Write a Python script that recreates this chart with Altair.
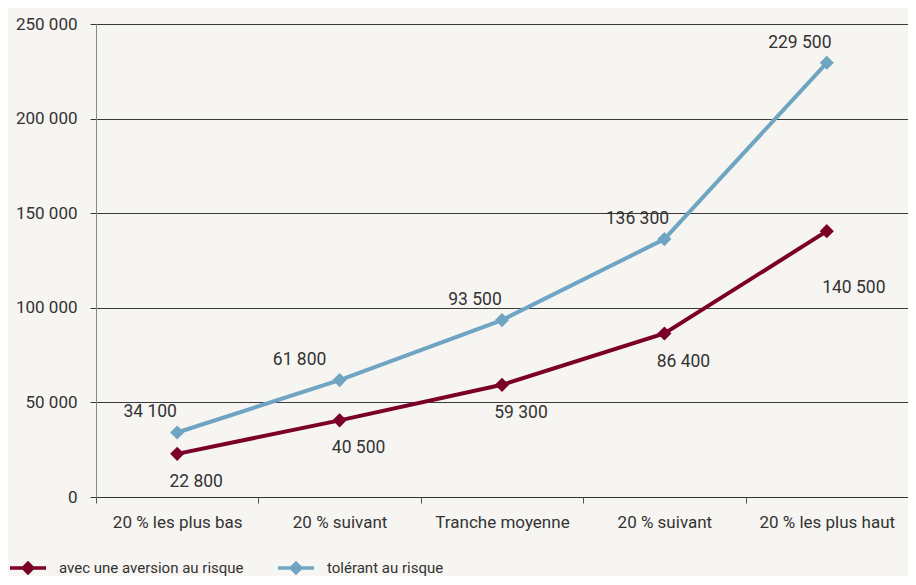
import json
import altair as alt
import pandas as pd

categories = ["20 % les plus bas", "20 % suivant", "Tranche moyenne", "20 % suivant", "20 % les plus haut"]
series_names = ["avec une aversion au risque", "tolérant au risque"]
averse = [22800, 40500, 59300, 86400, 140500]
tolerant = [34100, 61800, 93500, 136300, 229500]
y_ticks = [0, 50000, 100000, 150000, 200000, 250000]
colors = ["#7b0029", "#6fa4c3"]

rows = []
for i in range(len(categories)):
    rows.append({"idx": i, "serie": series_names[0], "value": averse[i]})
    rows.append({"idx": i, "serie": series_names[1], "value": tolerant[i]})
df = pd.DataFrame(rows)
df["label"] = df["value"].map(lambda v: f"{v:,}".replace(",", " "))

FONT = "Roboto"
label_expr = json.dumps(categories) + "[datum.value]"

x = alt.X(
    "idx:O",
    scale=alt.Scale(type="band", paddingInner=0, paddingOuter=0),
    axis=alt.Axis(
        title=None, labelExpr=label_expr, labelAngle=0, tickBand="extent",
        grid=False, domainColor="#333333", tickColor="#555555", tickSize=6,
        labelPadding=11, labelFontSize=17, labelColor="#333333", labelFont=FONT,
    ),
)
y = alt.Y(
    "value:Q",
    scale=alt.Scale(domain=[0, 250000], nice=False),
    axis=alt.Axis(
        title=None, values=y_ticks, format=",d", gridColor="#3a3a3a", gridWidth=1,
        domainColor="#8a8a8a", tickColor="#3a3a3a", tickSize=6, labelPadding=13,
        labelFontSize=17, labelColor="#333333", labelFont=FONT,
    ),
)

legend_path = "M-1,-0.1L1,-0.1L1,0.1L-1,0.1Z M-0.4,0L0,-0.4L0.4,0L0,0.4Z"
color = alt.Color(
    "serie:N",
    scale=alt.Scale(domain=series_names, range=colors),
    legend=alt.Legend(
        title=None, orient="none", direction="horizontal", legendX=-86, legendY=526,
        symbolType=legend_path, symbolSize=1296, symbolStrokeWidth=0,
        labelFontSize=15, labelFont=FONT, labelColor="#333333", labelLimit=300,
        columnPadding=34, labelOffset=13,
    ),
)

base = alt.Chart(df)
lines = base.mark_line(strokeWidth=4).encode(x=x, y=y, color=color)
points = base.mark_point(shape="diamond", filled=True, size=200, opacity=1).encode(x=x, y=y, color=color)

txt = dict(fontSize=17.5, font=FONT, color="#333333")
blue_lab = base.transform_filter(
    (alt.datum.serie == series_names[1]) & (alt.datum.idx != 1)
).mark_text(dx=-27, dy=-20, **txt).encode(x=x, y=y, text="label:N")
blue_second = base.transform_filter(
    (alt.datum.serie == series_names[1]) & (alt.datum.idx == 1)
).mark_text(dx=-40, dy=-20, **txt).encode(x=x, y=y, text="label:N")
red_lab = base.transform_filter(
    (alt.datum.serie == series_names[0]) & (alt.datum.idx < 4)
).mark_text(dx=19, dy=28, **txt).encode(x=x, y=y, text="label:N")
red_last = base.transform_filter(
    (alt.datum.serie == series_names[0]) & (alt.datum.idx == 4)
).mark_text(dx=27, dy=57, **txt).encode(x=x, y=y, text="label:N")

chart = (
    alt.layer(lines, points, blue_lab, blue_second, red_lab, red_last)
    .properties(
        width=812, height=473,
        padding={"left": 88, "top": 16, "right": 0, "bottom": 79},
        autosize=alt.AutoSizeParams(type="none"),
        background="#f7f5f1",
    )
    .configure_view(stroke=None)
    .configure(locale={"number": {"decimal": ",", "thousands": " ", "grouping": [3], "currency": ["", " €"]}})
)

chart.save("out.html", embed_options={"renderer": "svg", "actions": False})
